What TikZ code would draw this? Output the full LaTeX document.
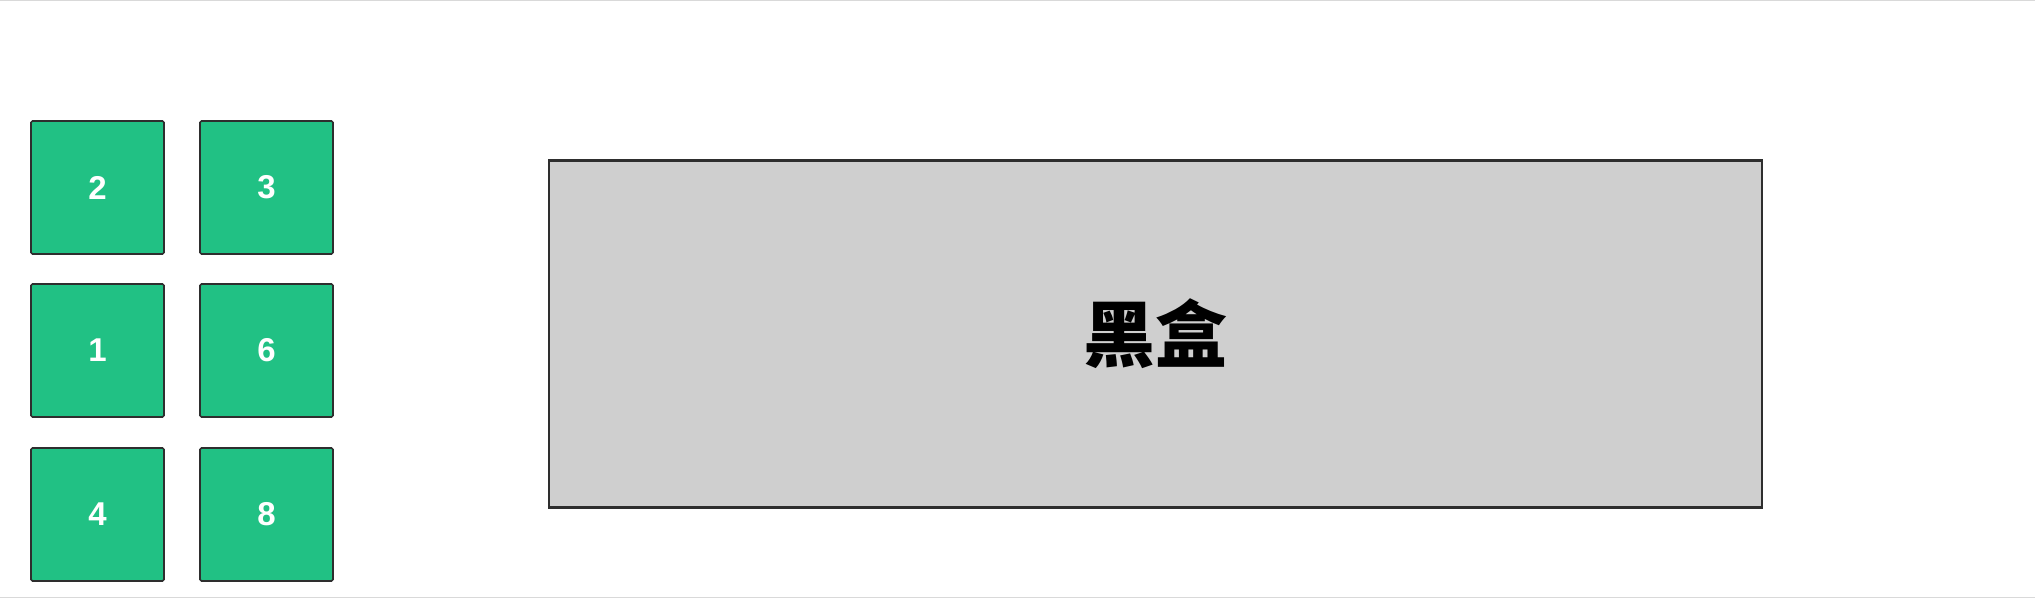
\documentclass[tikz,border=0pt]{standalone}
\usepackage{fontspec}
\setmainfont{Liberation Sans}
\newfontfamily\cjk{Noto Sans CJK SC}
\definecolor{cellgreen}{HTML}{21C184}
\definecolor{boxgray}{HTML}{CFCFCF}
\definecolor{edgedark}{HTML}{2E2E2E}
\begin{document}
\begin{tikzpicture}[x=1pt,y=-1pt,
  cell/.style={draw=edgedark,line width=1.6pt,fill=cellgreen,rounded corners=1.5pt,
    minimum width=133pt,minimum height=133pt,inner sep=0pt,outer sep=0pt,
    text=white,font=\bfseries\fontsize{33}{33}\selectfont},
  blackbox/.style={draw=edgedark,line width=2.4pt,fill=boxgray,
    minimum width=1213pt,minimum height=347pt,inner sep=0pt,outer sep=0pt,
    font=\cjk\bfseries\fontsize{72}{72}\selectfont}]
\useasboundingbox (0,0) rectangle (2035,598);
\fill[white] (0,0) rectangle (2035,598);
\draw[black!15,line width=1pt] (0,0.5) -- (2035,0.5);
\draw[black!15,line width=1pt] (0,597) -- (2035,597);
\node[cell] (c2) at (97.5,187.5) {2};
\node[cell] (c3) at (266.5,187.5) {3};
\node[cell] (c1) at (97.5,350.5) {1};
\node[cell] (c6) at (266.5,350.5) {6};
\node[cell] (c4) at (97.5,514.5) {4};
\node[cell] (c8) at (266.5,514.5) {8};
\node[blackbox] (bb) at (1155.5,334) {黑盒};
\end{tikzpicture}
\end{document}
